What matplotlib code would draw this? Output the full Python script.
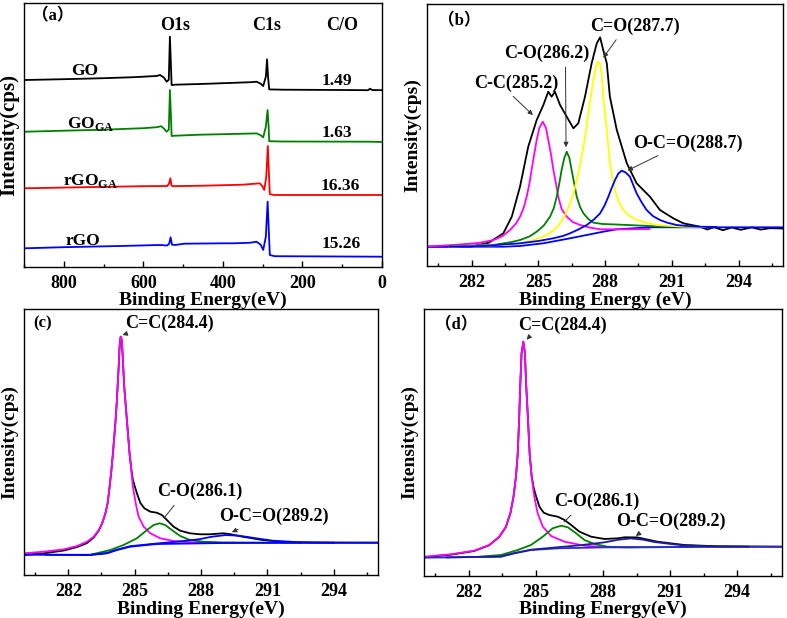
import numpy as np
import matplotlib
matplotlib.use('Agg')
import matplotlib.pyplot as plt
from matplotlib.ticker import MultipleLocator

plt.rcParams['font.family'] = ['Liberation Serif', 'Noto Sans CJK SC']
plt.rcParams['font.weight'] = 'bold'
plt.rcParams['mathtext.fontset'] = 'custom'
plt.rcParams['mathtext.bf'] = 'Liberation Serif:bold'
plt.rcParams['mathtext.rm'] = 'Liberation Serif:bold'

# ---- (a) survey spectra: binding energy (eV) vs offset intensity
go_x = [897.5, 800, 700, 625, 566.6, 558, 548, 541.5, 536, 533.2, 530.5, 528.9, 520, 457.8, 400, 330,
        315.4, 305, 298.7, 292, 289, 286.5, 283.6, 250, 100, 35, 30, 25, 0.5]
go_y = [186.7, 187.5, 188.5, 189.5, 190.7, 191.7, 189, 185, 187, 230, 200, 181.7, 182, 182.7, 183.5, 184.5,
        185, 183, 180.7, 190, 207.3, 190, 177.3, 177, 176.7, 176.5, 178, 176.7, 176.5]
goga_x = [897.5, 800, 700, 600, 566, 555, 548, 541.5, 536, 533.2, 530.5, 528.9, 520, 457.8, 400, 315,
          305, 298.7, 292, 287.7, 285, 283.6, 250, 30, 0.5]
goga_y = [135, 136, 137, 138.5, 139.5, 140.5, 138, 135, 137, 176.7, 150, 130.7, 131, 132, 132.5, 133.3,
          131.5, 129.3, 140, 156.7, 140, 125.5, 125.2, 125, 124.7]
rgoga_x = [897.5, 750, 600, 540, 535.5, 532, 529, 525, 450, 350, 307, 300, 296, 291, 287, 284.5, 282, 270, 0.5]
rgoga_y = [78.4, 79.5, 80.5, 80.7, 83, 88.4, 81, 80.5, 81, 82, 83.4, 80, 76.7, 90, 120.7, 95, 72.5, 71.7, 71.7]
rgo_x = [897.5, 800, 658.8, 558, 540, 535, 531.5, 528, 520, 498, 400, 372, 330, 315.4, 305, 298.7,
         292, 287.5, 284.5, 282, 270, 0.5]
rgo_y = [18.4, 19.5, 20.7, 21.7, 21.2, 23, 29.4, 22, 21.7, 23, 23.4, 23.4, 24, 25, 22, 16.7,
         30, 65, 35, 11.7, 10.5, 10]
survey_names = ['GO', r'GO$_{\mathbf{GA}}$', r'rGO$_{\mathbf{GA}}$', 'rGO']
co_ratio = ['1.49', '1.63', '16.36', '15.26']

# ---- (b) GO C1s fit
b_env_x = [280, 282, 282.78, 283.43, 283.81, 284.18, 284.55, 284.93, 285.23, 285.45, 285.6, 285.75, 285.98,
           286.28, 286.58, 286.8, 287.1, 287.4, 287.63, 287.78, 287.92, 288.08, 288.22, 288.53, 288.98,
           289.42, 290.02, 290.47, 291.07, 291.52, 292.27, 292.6, 292.9, 293.3, 293.7, 294.1, 294.6,
           295.0, 295.4, 296]
b_env_y = [19.3, 19.5, 23.3, 32.7, 49.3, 79.3, 119.3, 146, 161, 174.3, 169.3, 174.3, 161,
           149.3, 137.7, 142.7, 169.3, 202.7, 222.7, 228.7, 216, 202.7, 169.3, 136, 102.7,
           82.7, 69.3, 56, 47.7, 42.7, 39.3, 36.5, 38.8, 35.8, 38.5, 36.2, 38.6,
           36.4, 37.8, 37.5]
b_cc_x = [280, 281.18, 282.3, 283.0, 283.4, 283.73, 284.0, 284.18, 284.35, 284.48, 284.6, 284.7, 284.82,
          284.93, 285.05, 285.2, 285.35, 285.45, 285.57, 285.68, 285.8, 285.9, 286.05, 286.28, 286.55,
          286.88, 287.3, 287.78, 289, 290]
b_cc_y = [19.5, 21, 23, 26, 30, 36, 42.5, 49.3, 58.5, 69.3, 82, 96, 112,
          126, 138, 144.3, 138, 126, 112, 96, 82, 69.3, 57, 49.3, 44,
          41, 38.5, 36.7, 36.7, 37]
b_co_x = [281, 283.0, 283.8, 284.18, 284.6, 284.93, 285.25, 285.53, 285.7, 285.83, 285.95, 286.05, 286.17,
          286.28, 286.4, 286.5, 286.62, 286.73, 286.88, 287.03, 287.25, 287.48, 287.9, 288.5, 289.5,
          290.5, 292]
b_co_y = [20, 21, 24, 26, 29.5, 34.3, 40.5, 49.3, 58, 69.3, 83, 96, 108,
          114.3, 108, 96, 82, 69.3, 59, 52.7, 47, 43.3, 42, 41.5, 40.5,
          39.5, 39]
b_cdo_x = [281, 283.5, 284.18, 284.8, 285.38, 285.75, 285.98, 286.2, 286.43, 286.6, 286.73, 286.88, 287.03,
           287.15, 287.25, 287.37, 287.48, 287.58, 287.67, 287.78, 287.85, 287.92, 288.0, 288.08, 288.15,
           288.22, 288.33, 288.45, 288.6, 288.82, 289.1, 289.42, 289.8, 290.32, 291.5, 292.5]
b_cdo_y = [19.5, 21, 22.7, 26, 31, 37, 42.7, 51, 62.7, 74, 86, 101, 119.3,
           136, 152.7, 170, 186, 198, 204.3, 202.7, 192, 169.3, 152, 136, 119,
           102.7, 88, 76, 65, 56, 50, 46, 43.5, 41, 39.3, 39]
b_oco_x = [281, 282.5, 284.18, 285.0, 285.68, 286.1, 286.43, 286.8, 287.18, 287.5, 287.78, 287.98, 288.15,
           288.3, 288.45, 288.6, 288.75, 288.93, 289.12, 289.27, 289.42, 289.65, 289.87, 290.15, 290.47,
           290.8, 291.22, 291.7, 292.27, 293]
b_oco_y = [19.5, 20, 22.7, 25, 27.7, 30, 32.7, 36.5, 41, 46.5, 52.7, 60.5, 69.3,
           78, 86, 92.5, 95.3, 93.5, 89.3, 81, 72.7, 63.5, 56, 50, 46,
           43.3, 41, 40, 39.3, 39]
b_bg_x = [280, 283.43, 284.18, 285.23, 286.43, 287.92, 288.53, 290.0, 296]
b_bg_y = [19.3, 19.3, 20, 22.7, 27.7, 34.3, 36.7, 38.7, 38.7]

# ---- (c) rGO_GA C1s fit
c_env_x = [280, 280.9, 281.8, 282.4, 282.85, 283.15, 283.38, 283.53, 283.68, 283.78, 283.87, 283.95,
           284.02, 284.08, 284.14, 284.19, 284.23, 284.28, 284.32, 284.35, 284.37, 284.4, 284.43, 284.47,
           284.53, 284.59, 284.65, 284.71, 284.77, 284.85, 284.92, 285.1, 285.26, 285.44, 285.71, 286.0,
           286.23, 286.46, 286.76, 287.06, 287.5, 287.96, 288.4, 289.0, 289.28, 289.88, 290.78, 291.68,
           293, 296]
c_env_y = [20, 21.7, 24.5, 28, 32, 37.5, 44.5, 51.5, 61.7, 71.7, 88.3, 105,
           121.7, 138.3, 155, 171.7, 188.3, 208.3, 228.3, 235, 238.3, 237, 231.7, 215,
           188.3, 171.7, 155, 138.3, 121.7, 106, 95, 82, 72, 66.7, 63.3, 62.3,
           60, 55, 48.3, 44.3, 41.7, 40.7, 40.7, 41.7, 41, 38.3, 35, 33,
           32.5, 32.3]
c_cc_x = [280, 280.9, 281.8, 282.4, 282.85, 283.15, 283.38, 283.53, 283.68, 283.78, 283.87, 283.95,
          284.02, 284.08, 284.14, 284.19, 284.23, 284.28, 284.32, 284.35, 284.37, 284.4, 284.43, 284.47,
          284.53, 284.59, 284.65, 284.71, 284.77, 284.85, 284.92, 285.05, 285.18, 285.41, 285.71, 286.16,
          286.76, 287.5, 288.4, 289.5]
c_cc_y = [21.7, 23.3, 25.7, 29, 33.3, 38.3, 45, 51.7, 61.7, 71.7, 88.3, 105,
          121.7, 138.3, 155, 171.7, 188.3, 208.3, 228.3, 235, 238.3, 237, 231.7, 215,
          188.3, 171.7, 155, 138.3, 121.7, 105, 88.3, 71.7, 58.3, 48.3, 41.7, 36.7,
          34, 32.7, 32.3, 32.3]
c_co_x = [282.5, 283.0, 283.9, 284.5, 285.1, 285.56, 285.86, 286.13, 286.38, 286.68, 287.06, 287.5,
          288.1, 289, 290, 291.5, 292.5]
c_co_y = [20, 20.2, 25, 30, 36.7, 45, 50, 51.7, 50, 45, 39, 35,
          33.3, 32.5, 32.5, 32.4, 32.3]
c_oco_x = [281, 283.0, 283.75, 284.2, 284.8, 286.0, 287.0, 287.9, 288.5, 289.13, 289.7, 290.2, 290.7,
           291.25, 292.5, 294]
c_oco_y = [20.3, 20.2, 22, 25.3, 28.8, 31.5, 33.5, 35.7, 38.3, 40, 39.3, 37.7, 36,
           34.3, 32.7, 32.3]
c_bg_x = [280, 283.0, 283.75, 284.2, 284.8, 286.0, 287.5, 289, 296]
c_bg_y = [20.3, 20, 21.7, 25, 28.3, 31, 31.5, 32, 32.3]

# ---- (d) rGO C1s fit
d_env_x = [280, 281.2, 282.24, 282.91, 283.36, 283.66, 283.86, 284.0, 284.11, 284.19, 284.25, 284.3,
           284.36, 284.44, 284.51, 284.57, 284.65, 284.72, 284.81, 284.9, 285.0, 285.16, 285.35, 285.6,
           285.98, 286.28, 286.58, 286.95, 287.47, 288.07, 288.67, 288.97, 289.53, 290.43, 291.63, 293, 296]
d_env_y = [18.4, 21, 24.7, 30.4, 38.7, 48.7, 62.4, 79, 99, 122.4, 155.7, 189,
           222.4, 234, 222.4, 189, 155.7, 122.4, 100, 88, 80, 69, 63, 60.7,
           59, 55.7, 50.7, 44, 39, 36.7, 37.4, 38.4, 38.3, 34, 30.7, 29.5, 29]
d_cc_x = [280, 281.2, 282.24, 282.91, 283.36, 283.66, 283.86, 284.0, 284.11, 284.19, 284.25, 284.3,
          284.36, 284.44, 284.51, 284.57, 284.65, 284.72, 284.81, 284.93, 285.08, 285.31, 285.68, 286.28,
          287.17, 288.2, 289.5]
d_cc_y = [19, 21.4, 25, 30.7, 39, 49, 62.4, 79, 99, 122.4, 155.7, 189,
          222.4, 234, 222.4, 189, 155.7, 122.4, 99, 79, 62.4, 49, 39.7, 34,
          30, 28.5, 28.5]
d_co_x = [282.5, 283.44, 284.19, 284.78, 285.31, 285.75, 286.13, 286.43, 286.8, 287.17, 287.62, 288.2,
          289, 290.5, 292]
d_co_y = [19, 20.7, 25.7, 30.7, 39, 47.4, 50, 48.4, 42.4, 35.7, 31.7, 29,
          28.3, 28.5, 28.8]
d_oco_x = [281, 283.44, 284.04, 284.78, 286, 287.0, 288.04, 288.7, 289.24, 289.8, 290.3, 291.0, 291.6,
           293, 294.5]
d_oco_y = [18.3, 19.2, 22.6, 26, 28.5, 30.5, 33.3, 36, 37.3, 36, 33.7, 31.8, 30.3,
           29.2, 29]
d_bg_x = [280, 283.44, 284.04, 284.78, 286, 288.2, 296]
d_bg_y = [18, 19, 22.4, 25.7, 27.4, 28.4, 29]

W, H = 787, 618
fig = plt.figure(figsize=(W / 100, H / 100), dpi=100)


def make_ax(l, t, r, b):
    return fig.add_axes([l / W, 1 - b / H, (r - l) / W, (b - t) / H])


def style(ax, major, minor, xlabel, ylsize=14, ylx=None):
    for s in ax.spines.values():
        s.set_linewidth(1.0)
    ax.set_yticks([])
    ax.xaxis.set_major_locator(MultipleLocator(major))
    ax.xaxis.set_minor_locator(MultipleLocator(minor))
    ax.tick_params(axis='x', which='major', direction='in', length=4, width=1, pad=6, labelsize=13)
    ax.tick_params(axis='x', which='minor', direction='in', length=2.5, width=1)
    ax.set_xlabel(xlabel, fontsize=14, fontweight='bold', labelpad=0)
    ax.set_ylabel('Intensity(cps)', fontsize=ylsize, fontweight='bold', labelpad=4)
    if ylx is not None:
        ax.yaxis.set_label_coords(ylx, 0.5)


lw = 1.3
ARR = dict(arrowstyle='-|>', color='#333333', lw=0.7, mutation_scale=7)

# (a)
ax = make_ax(24, 3, 382, 266.7)
ax.plot(go_x, go_y, color='black', lw=lw)
ax.plot(goga_x, goga_y, color='#008000', lw=lw)
ax.plot(rgoga_x, rgoga_y, color='#ff0000', lw=lw)
ax.plot(rgo_x, rgo_y, color='#0000ff', lw=lw)
ax.set_xlim(900, 0)
ax.set_ylim(0, 263.7)
style(ax, 200, 100, 'Binding Energy(eV)', ylsize=15, ylx=-0.012)
ax.set_xticks([800, 600, 400, 200, 0])
ax.text(880, 246.7, '（a）', fontsize=12, ha='left', va='baseline')
ax.text(520.6, 236.7, 'O1s', fontsize=13, ha='center', va='baseline')
ax.text(289.4, 236.7, 'C1s', fontsize=13, ha='center', va='baseline')
ax.text(101, 236.7, 'C/O', fontsize=13, ha='center', va='baseline')
name_pos = [(746.7, 191.7), (731.7, 138.7), (731.7, 81.7), (751.8, 21.7)]
val_pos = [(114.3, 181.7), (114.3, 130), (106, 76.7), (101.8, 18.4)]
for nm, (nx, ny), val, (vx, vy) in zip(survey_names, name_pos, co_ratio, val_pos):
    ax.text(nx, ny, nm, fontsize=12.5, ha='center', va='baseline')
    ax.text(vx, vy, val, fontsize=12.5, ha='center', va='baseline')

# (b)
ax = make_ax(427, 4, 783, 266)
ax.plot(b_env_x, b_env_y, color='black', lw=lw)
ax.plot(b_bg_x, b_bg_y, color='#0000ff', lw=lw)
ax.plot(b_cc_x, b_cc_y, color='#ff00ff', lw=lw)
ax.plot(b_co_x, b_co_y, color='#008000', lw=lw)
ax.plot(b_cdo_x, b_cdo_y, color='#ffff00', lw=lw)
ax.plot(b_oco_x, b_oco_y, color='#0000ff', lw=lw)
ax.set_xlim(280, 296)
ax.set_ylim(0, 262)
style(ax, 3, 1.5, 'Binding Energy (eV)')
ax.set_xticks([282, 285, 288, 291, 294])
ax.text(280.5, 245, '（b）', fontsize=12, ha='left', va='center')
ax.annotate('C-C(285.2)', xy=(284.85, 149), xytext=(284.03, 183), fontsize=13, ha='center', va='center',
            arrowprops=dict(ARR, relpos=(0.4, 0)))
ax.annotate('C-O(286.2)', xy=(286.25, 116), xytext=(285.38, 213), fontsize=13, ha='center', va='center',
            arrowprops=dict(ARR, relpos=(0.72, 0)))
ax.annotate('C=O(287.7)', xy=(287.85, 206), xytext=(289.35, 240), fontsize=13, ha='center', va='center',
            arrowprops=dict(ARR, relpos=(0.33, 0)))
ax.annotate('O-C=O(288.7)', xy=(288.9, 94.3), xytext=(291.73, 123), fontsize=13, ha='center', va='center',
            arrowprops=dict(ARR, relpos=(0.3, 0)))

# (c)
ax = make_ax(24, 309, 378, 575)
ax.plot(c_env_x, c_env_y, color='black', lw=lw)
ax.plot(c_cc_x, c_cc_y, color='#ff00ff', lw=lw)
ax.plot(c_co_x, c_co_y, color='#008000', lw=lw)
ax.plot(c_bg_x, c_bg_y, color='#0000ff', lw=lw)
ax.plot(c_oco_x, c_oco_y, color='#0000ff', lw=lw)
ax.set_xlim(280, 296)
ax.set_ylim(0, 266)
style(ax, 3, 1.5, 'Binding Energy(eV)')
ax.set_xticks([282, 285, 288, 291, 294])
ax.text(280.4, 252, '(c)', fontsize=12, ha='left', va='center')
ax.annotate('C=C(284.4)', xy=(284.45, 240), xytext=(286.58, 252), fontsize=13, ha='center', va='center',
            arrowprops=dict(ARR, relpos=(0.2, 0.2)))
ax.annotate('C-O(286.1)', xy=(286.26, 55), xytext=(287.93, 83.3), fontsize=13, ha='center', va='center',
            arrowprops=dict(ARR, arrowstyle='-', relpos=(0.25, 0)))
ax.annotate('O-C=O(289.2)', xy=(289.28, 41.7), xytext=(291.31, 58.3), fontsize=13, ha='center', va='center',
            arrowprops=dict(ARR, relpos=(0.25, 0)))

# (d)
ax = make_ax(424, 309.3, 782, 575.7)
ax.plot(d_env_x, d_env_y, color='black', lw=lw)
ax.plot(d_cc_x, d_cc_y, color='#ff00ff', lw=lw)
ax.plot(d_co_x, d_co_y, color='#008000', lw=lw)
ax.plot(d_bg_x, d_bg_y, color='#2a2ad0', lw=lw)
ax.plot(d_oco_x, d_oco_y, color='#1c1ca0', lw=lw)
ax.set_xlim(280, 296)
ax.set_ylim(0, 266.4)
style(ax, 3, 1.5, 'Binding Energy(eV)')
ax.set_xticks([282, 285, 288, 291, 294])
ax.text(280.5, 250.7, '（d）', fontsize=12, ha='left', va='center')
ax.annotate('C=C(284.4)', xy=(284.5, 234), xytext=(286.17, 250.7), fontsize=13, ha='center', va='center',
            arrowprops=dict(ARR, relpos=(0.2, 0.2)))
ax.annotate('C-O(286.1)', xy=(286.17, 51.7), xytext=(287.74, 74), fontsize=13, ha='center', va='center',
            arrowprops=dict(ARR, arrowstyle='-', relpos=(0.25, 0)))
ax.annotate('O-C=O(289.2)', xy=(289.37, 38), xytext=(291.03, 54), fontsize=13, ha='center', va='center',
            arrowprops=dict(ARR, relpos=(0.25, 0)))

fig.savefig('out.png', dpi=100)
